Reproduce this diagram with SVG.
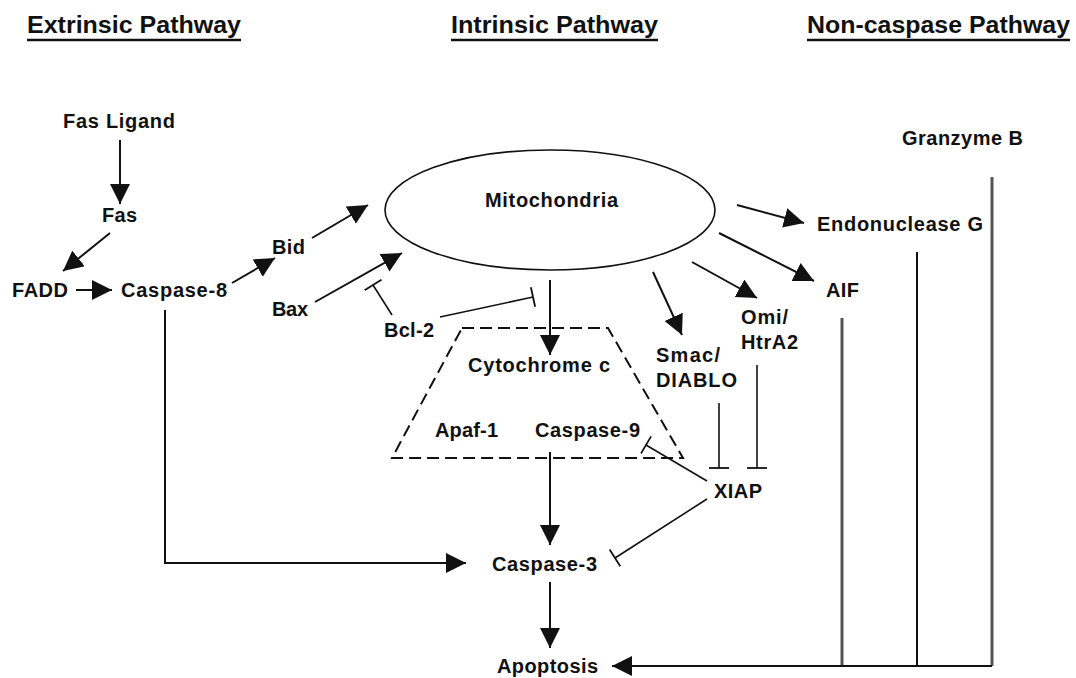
<svg xmlns="http://www.w3.org/2000/svg" width="1076" height="678" viewBox="0 0 1076 678">
<style>
text{font-family:"Liberation Sans",Arial,sans-serif;font-weight:bold;fill:#111;}
.h{font-size:23px;}
.n{font-size:20px;}
.c{fill:none;stroke:#111;stroke-width:2;}
.i{fill:none;stroke:#111;stroke-width:1.6;}
.g{fill:none;stroke:#555;stroke-width:3;}
</style>
<defs>
<marker id="ah" markerUnits="userSpaceOnUse" markerWidth="22" markerHeight="22" refX="20" refY="10" orient="auto" viewBox="0 0 22 22">
<path d="M0,0 L20,10 L0,20 z" fill="#111"/>
</marker>
<marker id="bar" markerUnits="userSpaceOnUse" markerWidth="6" markerHeight="22" refX="3" refY="10" orient="auto" viewBox="0 0 6 22">
<path d="M3,0 L3,20" stroke="#111" stroke-width="1.8"/>
</marker>
</defs>
<rect width="1076" height="678" fill="#fff"/>
<g id="headers">
<text class="h" x="27" y="33" textLength="214" lengthAdjust="spacingAndGlyphs">Extrinsic Pathway</text>
<line x1="27" y1="40" x2="241" y2="40" stroke="#111" stroke-width="2.5"/>
<text class="h" x="451" y="33" textLength="207" lengthAdjust="spacingAndGlyphs">Intrinsic Pathway</text>
<line x1="451" y1="40" x2="658" y2="40" stroke="#111" stroke-width="2.5"/>
<text class="h" x="807" y="33" textLength="263" lengthAdjust="spacingAndGlyphs">Non-caspase Pathway</text>
<line x1="807" y1="40" x2="1070" y2="40" stroke="#111" stroke-width="2.5"/>
</g>
<g id="connectors">
<path class="c" d="M120,140 L120,204" marker-end="url(#ah)"/>
<path class="c" d="M110,233 L63,271" marker-end="url(#ah)"/>
<path class="c" d="M76,290 L112,290" marker-end="url(#ah)"/>
<path class="c" d="M232,283 L275,258" marker-end="url(#ah)"/>
<path class="c" d="M312,238 L368,205" marker-end="url(#ah)"/>
<path class="c" d="M315,302 L402,253" marker-end="url(#ah)"/>
<path class="i" d="M392,315 L373,285" marker-end="url(#bar)"/>
<path class="i" d="M440,317 L533,297" marker-end="url(#bar)"/>
<path class="c" d="M550,280 L550,355" marker-end="url(#ah)"/>
<path class="c" d="M653,272 L682,335" marker-end="url(#ah)"/>
<path class="c" d="M692,262 L757,298" marker-end="url(#ah)"/>
<path class="c" d="M719,233 L814,281" marker-end="url(#ah)"/>
<path class="c" d="M737,205 L804,223" marker-end="url(#ah)"/>
<path class="i" d="M719,403 L719,468" marker-end="url(#bar)"/>
<path class="i" d="M757,365 L757,468" marker-end="url(#bar)"/>
<path class="i" d="M707,481 L646,445" marker-end="url(#bar)"/>
<path class="i" d="M707,499 L615,558" marker-end="url(#bar)"/>
<path class="c" d="M550,452 L550,545" marker-end="url(#ah)"/>
<path class="c" d="M165,310 L165,563 L466,563" marker-end="url(#ah)"/>
<path class="c" d="M550,582 L550,648" marker-end="url(#ah)"/>
<path class="g" d="M842,318 L842,666"/>
<path class="c" d="M917,252 L917,666"/>
<path class="g" d="M992,177 L992,666"/>
<path class="c" d="M992,666 L612,666" stroke-width="2.5" marker-end="url(#ah)"/>
</g>
<g id="mitochondria">
<ellipse cx="550" cy="210" rx="165" ry="60" fill="none" stroke="#111" stroke-width="1.6"/>
<text class="n" x="485" y="207" textLength="133">Mitochondria</text>
</g>
<g id="apoptosome">
<polygon points="462,328 608,328 683,458 392,458" fill="none" stroke="#111" stroke-width="2" stroke-dasharray="12 6"/>
</g>
<g id="fas-ligand"><text class="n" x="63" y="128" textLength="112">Fas Ligand</text></g>
<g id="fas"><text class="n" x="102" y="222" textLength="35">Fas</text></g>
<g id="fadd"><text class="n" x="12" y="297" textLength="56">FADD</text></g>
<g id="caspase-8"><text class="n" x="121" y="297" textLength="106">Caspase-8</text></g>
<g id="bid"><text class="n" x="272" y="254" textLength="33">Bid</text></g>
<g id="bax"><text class="n" x="272" y="316" textLength="36">Bax</text></g>
<g id="bcl-2"><text class="n" x="384" y="337" textLength="50">Bcl-2</text></g>
<g id="cytochrome-c"><text class="n" x="468" y="372" textLength="142">Cytochrome c</text></g>
<g id="apaf-1"><text class="n" x="435" y="437" textLength="63">Apaf-1</text></g>
<g id="caspase-9"><text class="n" x="535" y="437" textLength="105">Caspase-9</text></g>
<g id="caspase-3"><text class="n" x="492" y="571" textLength="105">Caspase-3</text></g>
<g id="apoptosis"><text class="n" x="497" y="673" textLength="101">Apoptosis</text></g>
<g id="xiap"><text class="n" x="714" y="498" textLength="48">XIAP</text></g>
<g id="smac"><text class="n" x="656" y="362" textLength="64">Smac/</text><text class="n" x="656" y="387" textLength="81">DIABLO</text></g>
<g id="omi"><text class="n" x="741" y="324" textLength="47">Omi/</text><text class="n" x="741" y="349" textLength="57">HtrA2</text></g>
<g id="aif"><text class="n" x="826" y="297" textLength="33">AIF</text></g>
<g id="endonuclease-g"><text class="n" x="817" y="231" textLength="166">Endonuclease G</text></g>
<g id="granzyme-b"><text class="n" x="902" y="145" textLength="121">Granzyme B</text></g>
</svg>
